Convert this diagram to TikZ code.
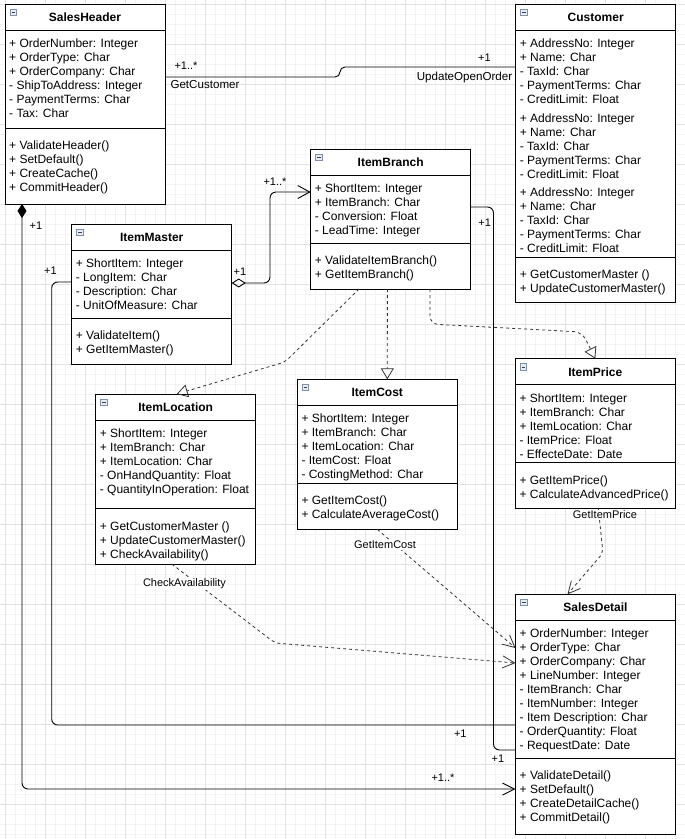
\documentclass[tikz,border=0pt]{standalone}
\usepackage{fontspec}
\setmainfont{Liberation Sans}
\usetikzlibrary{arrows.meta,calc}
\definecolor{gridfine}{HTML}{F3F3F3}
\definecolor{gridmajor}{HTML}{E3E3E3}
\definecolor{iconfill}{HTML}{E6ECF5}
\definecolor{iconline}{HTML}{8090A8}
\definecolor{dashc}{HTML}{333333}
\newcommand{\umlclass}[8]{%
  \node[cls, minimum height=#4pt] (#1) at (#2,#3) {};
  \draw[sepl] ($(#1.north west)+(0,26)$) -- ($(#1.north east)+(0,26)$);
  \draw[sepl] ($(#1.north west)+(0,#5)$) -- ($(#1.north east)+(0,#5)$);
  \node[ttl] (#1-t) at ($(#1.north)+(0,17.5)$) {#6};
  \draw[iconbox] ($(#1.north west)+(5,5)$) rectangle ($(#1.north west)+(11.5,11.5)$);
  \draw[iconminus] ($(#1.north west)+(6.5,8.25)$) -- ($(#1.north west)+(10,8.25)$);
  \foreach \t [count=\i from 0] in {#7} {\node[txt] (#1-a\i) at ($(#1.north west)+(4,43.5+14*\i)$) {\t};}
  \foreach \t [count=\i from 0] in {#8} {\node[txt] (#1-m\i) at ($(#1.north west)+(4,#5+21.5+14*\i)$) {\t};}
}
\begin{document}
\begin{tikzpicture}[x=1pt,y=-1pt,
  cls/.style={draw=black, line width=1pt, fill=white, anchor=north west, inner sep=0pt, outer sep=0pt, minimum width=160pt},
  sepl/.style={draw=black, line width=1pt},
  ttl/.style={anchor=base, inner sep=0pt, font=\bfseries\fontsize{12}{14}\selectfont},
  txt/.style={anchor=base west, inner sep=0pt, font=\fontsize{12}{14}\selectfont},
  iconbox/.style={draw=iconline, fill=iconfill, line width=0.7pt},
  iconminus/.style={draw=black!75, line width=0.9pt},
  conn/.style={draw=black, line width=0.9pt, rounded corners=6pt},
  dep/.style={draw=dashc, line width=0.8pt, dash pattern=on 3pt off 3pt, rounded corners=5pt},
  lbl/.style={inner sep=0.5pt, font=\fontsize{11}{13}\selectfont},
  lblb/.style={inner sep=0.5pt, font=\fontsize{11.6}{13}\selectfont},
  elbl/.style={inner sep=1pt, fill=white, font=\fontsize{11}{13}\selectfont}
]
\fill[white] (0,0) rectangle (685,839);
\useasboundingbox (0,0) rectangle (685,839);
% grid
\foreach \x in {5,15,...,685} {\draw[gridfine, line width=0.6pt] (\x,0) -- (\x,839);}
\foreach \y in {4,14,...,834} {\draw[gridfine, line width=0.6pt] (0,\y) -- (685,\y);}
\foreach \x in {5,45,...,685} {\draw[gridmajor, line width=0.7pt] (\x,0) -- (\x,839);}
\foreach \y in {4,44,...,834} {\draw[gridmajor, line width=0.7pt] (0,\y) -- (685,\y);}

% classes
\umlclass{sh}{5}{4}{200}{124}{SalesHeader}{+ OrderNumber: Integer, + OrderType: Char, + OrderCompany: Char, - ShipToAddress: Integer, - PaymentTerms: Char, - Tax: Char}{+ ValidateHeader(), + SetDefault(), + CreateCache(), + CommitHeader()}
\umlclass{cu}{515.7}{4}{298}{253}{Customer}{+ AddressNo: Integer, + Name: Char, - TaxId: Char, - PaymentTerms: Char, - CreditLimit: Float}{+ GetCustomerMaster (), + UpdateCustomerMaster()}
\foreach \t [count=\i from 0] in {+ AddressNo: Integer, + Name: Char, - TaxId: Char, - PaymentTerms: Char, - CreditLimit: Float} {\node[txt] (cu-b\i) at ($(cu.north west)+(4,118+14*\i)$) {\t};}
\foreach \t [count=\i from 0] in {+ AddressNo: Integer, + Name: Char, - TaxId: Char, - PaymentTerms: Char, - CreditLimit: Float} {\node[txt] (cu-c\i) at ($(cu.north west)+(4,192+14*\i)$) {\t};}
\umlclass{ib}{310.7}{149}{140}{94}{ItemBranch}{+ ShortItem: Integer, + ItemBranch: Char, - Conversion: Float, - LeadTime: Integer}{+ ValidateItemBranch(), + GetItemBranch()}
\umlclass{im}{71.7}{224}{140}{94}{ItemMaster}{+ ShortItem: Integer, - LongItem: Char, - Description: Char, - UnitOfMeasure: Char}{+ ValidateItem(), + GetItemMaster()}
\umlclass{il}{95.7}{394}{170}{114.7}{ItemLocation}{+ ShortItem: Integer, + ItemBranch: Char, + ItemLocation: Char, - OnHandQuantity: Float, - QuantityInOperation: Float}{+ GetCustomerMaster (), + UpdateCustomerMaster(), + CheckAvailability()}
\umlclass{ic}{297.3}{379.3}{150}{104}{ItemCost}{+ ShortItem: Integer, + ItemBranch: Char, + ItemLocation: Char, - ItemCost: Float, - CostingMethod: Char}{+ GetItemCost(), + CalculateAverageCost()}
\umlclass{ip}{515.3}{358.7}{149.6}{104}{ItemPrice}{+ ShortItem: Integer, + ItemBranch: Char, + ItemLocation: Char, - ItemPrice: Float, - EffecteDate: Date}{+ GetItemPrice(), + CalculateAdvancedPrice()}
\umlclass{sd}{515.5}{594.3}{239.7}{164}{SalesDetail}{+ OrderNumber: Integer, + OrderType: Char, + OrderCompany: Char, + LineNumber: Integer, - ItemBranch: Char, - ItemNumber: Integer, - Item Description: Char, - OrderQuantity: Float, - RequestDate: Date}{+ ValidateDetail(), + SetDefault(), + CreateDetailCache(), + CommitDetail()}

% solid associations
\draw[conn, rounded corners=5pt] ($(sh.north east)+(0,73)$) -- (340,77) -- (340,67) -- ($(cu.north west)+(0,63)$);
\draw[conn, {Diamond[open,length=14pt,width=9pt]}-{Straight Barb[length=12pt,width=13pt]}] ($(im.north east)+(0,59)$) -- (270,283) -- (270,192) -- ($(ib.north west)+(0,43)$);
\draw[conn, {Diamond[length=14pt,width=9pt]}-{Straight Barb[length=12pt,width=12pt]}] ($(sh.south west)+(17,0)$) -- (22,789) -- ($(sd.north west)+(0,194.7)$);
\draw[conn] ($(im.north west)+(0,58)$) -- (51.7,282) -- (51.7,725) -- ($(sd.north west)+(0,130.7)$);
\draw[conn] ($(ib.north east)+(0,58)$) -- (493.5,207) -- (493.5,750) -- ($(sd.north west)+(0,155.7)$);

% dependencies / realizations
\draw[dep, -{Triangle[open,length=11pt,width=13pt]}] ($(ib.south west)+(48.3,0)$) -- (285,362) -- ($(il.north)+(1,0)$);
\draw[dep, -{Triangle[open,length=11pt,width=13pt]}] ($(ib.south west)+(76.7,0)$) -- ($(ic.north)+(10,0)$);
\draw[dep, rounded corners=8pt, -{Triangle[open,length=11pt,width=13pt]}] ($(ib.south west)+(119.3,0)$) -- (430,324) -- (582,332) -- (ip.north);
\draw[dep, -{Straight Barb[length=12pt,width=12pt]}] (ic.south) -- ($(sd.north west)+(0,53.7)$);
\draw[dep, -{Straight Barb[length=12pt,width=12pt]}] ($(il.south)+(-4,0)$) -- (275,643) -- ($(sd.north west)+(0,68.7)$);
\draw[dep, -{Straight Barb[length=12pt,width=12pt]}] ($(ip.south)+(3,0)$) -- (603,553) -- ($(sd.north)+(-28,0)$);

% labels
\node[lbl] (l1) at (186,66) {+1..*};
\node[lblb] (l2) at (205,85) {GetCustomer};
\node[lbl] (l3) at (484.5,57.5) {+1};
\node[lblb] (l4) at (464.5,77.5) {UpdateOpenOrder};
\node[lbl] (l5) at (275,181.5) {+1..*};
\node[lbl] (l6) at (240,271.5) {+1};
\node[lbl] (l7) at (36,225.5) {+1};
\node[lbl] (l8) at (50.5,271) {+1};
\node[lbl] (l9) at (484.7,222.3) {+1};
\node[lbl] (l10) at (460.3,734) {+1};
\node[lbl] (l11) at (498,759) {+1};
\node[lbl] (l12) at (443,778) {+1..*};
\node[elbl] (l13) at (184.5,584) {CheckAvailability};
\node[elbl] (l14) at (385,545) {GetItemCost};
\node[elbl] (l15) at (605,515) {GetItemPrice};
\end{tikzpicture}
\end{document}
